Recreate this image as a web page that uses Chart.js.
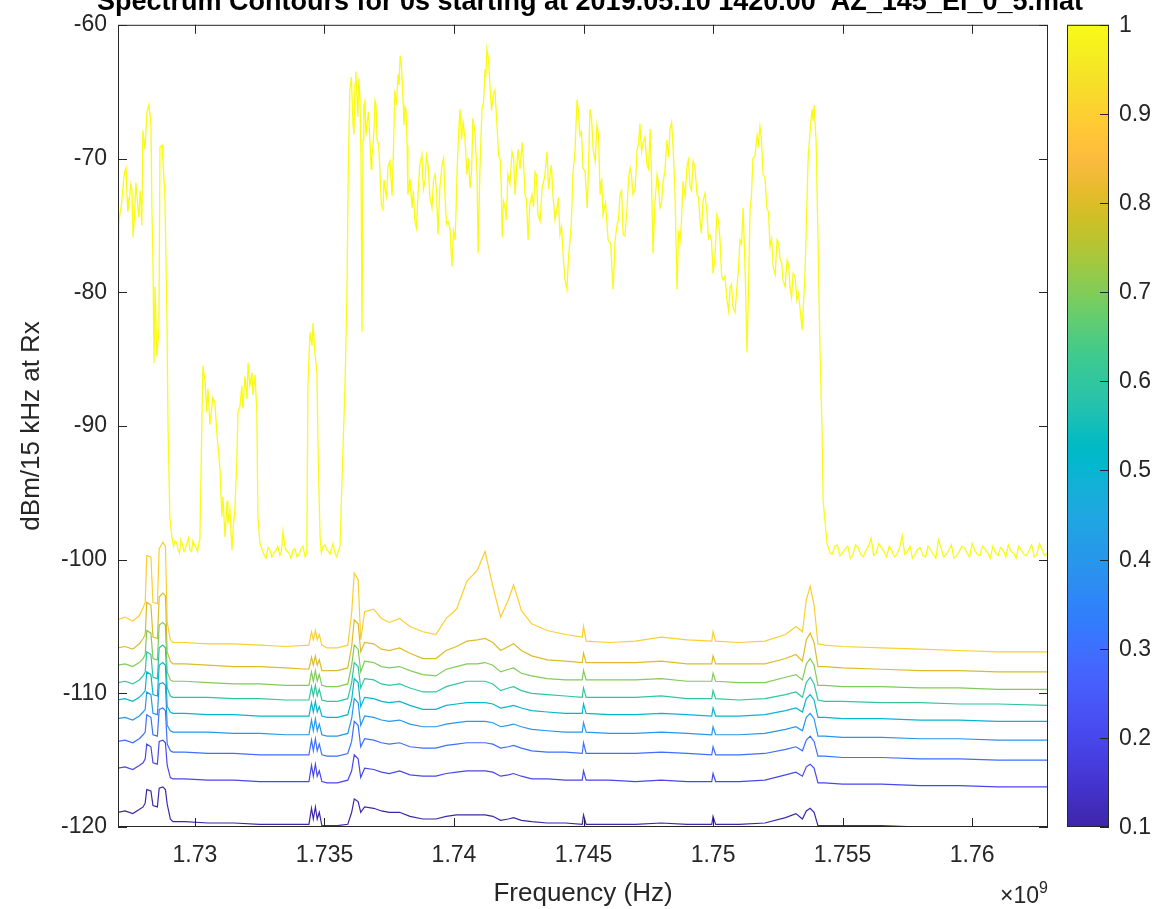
<!DOCTYPE html>
<html>
<head>
<meta charset="utf-8">
<script src="https://cdn.jsdelivr.net/npm/chart.js@4.4.0/dist/chart.umd.min.js"></script>
<style>
html, body { margin: 0; padding: 0; background: #fff; }
canvas { display: block; }
</style>
</head>
<body>
<canvas id="myChart" width="1173" height="909"></canvas>
<script>
// contour levels and axis ticks
const contourLevels = [0.1, 0.2, 0.3, 0.4, 0.5, 0.6, 0.7, 0.8, 0.9, 1.0];
const xTickVals = [1730, 1735, 1740, 1745, 1750, 1755, 1760];
const xTickLabels = ['1.73', '1.735', '1.74', '1.745', '1.75', '1.755', '1.76'];
const cbTickVals = [0.1, 0.2, 0.3, 0.4, 0.5, 0.6, 0.7, 0.8, 0.9, 1];
const cbTickLabels = ['0.1', '0.2', '0.3', '0.4', '0.5', '0.6', '0.7', '0.8', '0.9', '1'];

// level 1.0 contour (MHz / dBm)
const freqTop = [1727.03,1727.10,1727.22,1727.34,1727.41,1727.53,1727.61,1727.72,1727.80,1727.88,1727.95,1727.99,1728.07,1728.15,1728.22,1728.30,1728.34,1728.38,1728.42,1728.46,1728.53,1728.61,1728.65,1728.73,1728.76,1728.84,1728.92,1728.96,1729.03,1729.11,1729.23,1729.34,1729.46,1729.58,1729.69,1729.81,1729.92,1730.04,1730.15,1730.19,1730.27,1730.31,1730.39,1730.46,1730.50,1730.58,1730.69,1730.77,1730.85,1730.97,1731.04,1731.08,1731.16,1731.24,1731.27,1731.35,1731.43,1731.47,1731.54,1731.62,1731.66,1731.74,1731.81,1731.85,1731.93,1732.01,1732.05,1732.12,1732.20,1732.24,1732.32,1732.39,1732.43,1732.51,1732.66,1732.82,1732.97,1733.13,1733.28,1733.40,1733.55,1733.71,1733.86,1734.02,1734.17,1734.32,1734.36,1734.44,1734.52,1734.56,1734.63,1734.71,1734.75,1734.83,1734.94,1735.10,1735.21,1735.33,1735.48,1735.60,1735.71,1735.79,1735.87,1735.91,1735.98,1736.10,1736.18,1736.25,1736.33,1736.41,1736.45,1736.49,1736.56,1736.64,1736.76,1736.83,1736.87,1736.95,1737.03,1737.14,1737.26,1737.34,1737.45,1737.61,1737.72,1737.84,1737.92,1738.03,1738.11,1738.19,1738.22,1738.38,1738.49,1738.61,1738.76,1738.88,1739.00,1739.15,1739.27,1739.38,1739.54,1739.65,1739.77,1739.92,1740.04,1740.12,1740.23,1740.35,1740.50,1740.62,1740.73,1740.89,1740.93,1741.08,1741.20,1741.27,1741.39,1741.51,1741.66,1741.78,1741.86,1741.97,1742.08,1742.24,1742.36,1742.47,1742.63,1742.74,1742.86,1743.01,1743.13,1743.24,1743.40,1743.59,1743.71,1743.82,1743.98,1744.09,1744.21,1744.36,1744.48,1744.59,1744.75,1744.86,1744.98,1745.14,1745.25,1745.37,1745.52,1745.64,1745.75,1745.95,1746.14,1746.29,1746.41,1746.53,1746.68,1746.80,1746.91,1747.07,1747.18,1747.30,1747.45,1747.57,1747.68,1747.84,1747.95,1748.07,1748.22,1748.34,1748.46,1748.61,1748.73,1748.84,1749.00,1749.11,1749.23,1749.38,1749.50,1749.61,1749.77,1749.88,1750.00,1750.15,1750.27,1750.39,1750.54,1750.66,1750.77,1750.93,1751.04,1751.16,1751.31,1751.43,1751.54,1751.70,1751.81,1751.93,1752.08,1752.20,1752.32,1752.47,1752.59,1752.70,1752.86,1752.97,1753.09,1753.24,1753.36,1753.44,1753.55,1753.67,1753.82,1753.90,1753.98,1754.05,1754.13,1754.21,1754.25,1754.40,1754.52,1754.7,1754.9,1755.1,1755.3,1755.5,1755.7,1755.9,1756.1,1756.3,1756.5,1756.7,1756.9,1757.1,1757.3,1757.5,1757.7,1757.9,1758.1,1758.3,1758.5,1758.7,1758.9,1759.1,1759.3,1759.5,1759.7,1759.9,1760.1,1760.3,1760.5,1760.7,1760.9,1761.1,1761.3,1761.5,1761.7,1761.9,1762.1,1762.3,1762.5,1762.7,1762.93];
const dbTop = [-76.1,-74.2,-72.2,-70.7,-74.0,-71.9,-75.9,-71.8,-73.8,-72.4,-75.0,-67.9,-69.3,-66.5,-66.0,-67.3,-74.0,-77.6,-85.3,-79.6,-84.8,-82.8,-69.2,-69.0,-70.0,-72.8,-82.0,-89.9,-96.8,-98.3,-98.6,-99.2,-98.5,-99.4,-98.8,-99.3,-98.6,-99.1,-98.7,-98.6,-89.4,-85.5,-86.7,-89.0,-87.2,-89.9,-87.9,-88.3,-90.6,-93.4,-96.8,-95.3,-98.3,-95.6,-97.3,-96.3,-99.3,-97.8,-96.3,-92.4,-89.0,-88.5,-87.0,-88.7,-86.3,-88.0,-85.3,-87.0,-86.0,-87.7,-86.2,-89.0,-96.8,-98.8,-99.6,-99.1,-99.8,-99.3,-99.7,-97.9,-99.4,-99.9,-99.2,-99.6,-99.0,-99.5,-87.0,-83.0,-84.0,-82.3,-84.5,-86.0,-91.5,-98.3,-99.0,-99.3,-99.6,-98.8,-99.8,-99.0,-92.0,-87.2,-80.0,-72.0,-64.8,-67.4,-64.4,-65.2,-64.0,-70.0,-83.0,-68.6,-65.7,-67.4,-68.9,-69.9,-69.1,-65.7,-68.6,-71.0,-73.8,-72.3,-70.6,-72.8,-64.9,-63.7,-62.3,-65.4,-66.1,-69.0,-72.7,-73.7,-74.7,-72.7,-69.7,-71.7,-70.5,-73.7,-71.2,-75.7,-70.5,-72.7,-74.7,-78.1,-76.1,-70.9,-66.3,-67.3,-71.2,-72.2,-67.0,-71.2,-77.1,-66.3,-63.3,-61.8,-64.6,-65.3,-67.5,-70.0,-75.9,-73.7,-71.2,-69.5,-72.7,-69.3,-68.8,-72.7,-76.1,-72.7,-71.0,-74.2,-72.2,-69.5,-71.2,-72.7,-73.7,-75.7,-77.1,-79.8,-76.1,-71.2,-65.6,-68.3,-70.7,-73.7,-66.3,-69.3,-67.5,-72.7,-74.2,-76.1,-79.8,-75.0,-72.7,-75.7,-73.7,-70.7,-72.7,-69.3,-67.4,-68.8,-70.5,-67.8,-77.1,-71.2,-73.7,-71.7,-68.6,-67.8,-69.3,-79.8,-76.1,-71.7,-70.5,-72.0,-70.2,-72.7,-74.7,-73.2,-74.2,-75.7,-78.6,-74.2,-76.1,-79.1,-80.6,-79.6,-81.1,-79.4,-76.1,-73.7,-84.5,-73.7,-70.0,-68.3,-67.6,-71.2,-73.7,-76.6,-78.1,-76.1,-77.6,-79.1,-77.6,-79.6,-78.6,-80.6,-81.3,-82.8,-78.6,-70.0,-66.3,-66.0,-68.8,-76.0,-84.5,-90.6,-95.6,-98.8,-99.5,-99.0,-99.7,-99.2,-99.9,-98.9,-99.6,-99.3,-98.4,-99.5,-99.1,-99.8,-99.3,-99.6,-98.2,-99.4,-99.9,-99.2,-99.7,-99.0,-99.6,-98.5,-99.8,-99.3,-99.9,-99.4,-99.1,-99.8,-99.3,-99.7,-99.2,-99.9,-99.5,-99.1,-99.8,-99.4,-99.9,-99.3,-99.7,-98.9,-99.6,-99.2,-99.5];

// extra in-between readings of the same 1.0 contour (its fine noise)
const freqTopMid = [1727.06,1727.16,1727.28,1727.38,1727.47,1727.57,1727.67,1727.76,1727.84,1727.92,1729.17,1729.29,1729.40,1729.52,1729.64,1729.75,1729.87,1729.98,1730.10,1732.59,1732.74,1732.90,1733.05,1733.20,1733.34,1733.48,1733.63,1733.79,1733.94,1734.10,1734.25,1734.88,1735.02,1735.16,1735.27,1735.40,1735.54,1736.04,1736.14,1736.21,1736.29,1736.37,1736.52,1736.60,1736.70,1736.80,1736.91,1736.99,1737.09,1737.20,1737.30,1737.40,1737.53,1737.66,1737.78,1737.88,1737.97,1738.07,1738.15,1738.30,1738.43,1738.55,1738.68,1738.82,1738.94,1739.07,1739.21,1739.33,1739.46,1739.60,1739.71,1739.85,1739.98,1740.08,1740.18,1740.29,1740.42,1740.56,1740.68,1740.81,1741.00,1741.14,1741.23,1741.33,1741.45,1741.58,1741.72,1741.82,1741.91,1742.02,1742.16,1742.30,1742.41,1742.55,1742.68,1742.80,1742.93,1743.07,1743.18,1743.32,1743.50,1743.65,1743.76,1743.90,1744.03,1744.15,1744.28,1744.42,1744.53,1744.67,1744.80,1744.92,1745.06,1745.19,1745.31,1745.45,1745.58,1745.70,1745.85,1746.05,1746.22,1746.35,1746.47,1746.60,1746.74,1746.85,1746.99,1747.12,1747.24,1747.37,1747.51,1747.62,1747.76,1747.89,1748.01,1748.14,1748.28,1748.40,1748.53,1748.67,1748.78,1748.92,1749.05,1749.17,1749.30,1749.44,1749.55,1749.69,1749.82,1749.94,1750.07,1750.21,1750.33,1750.46,1750.60,1750.71,1750.85,1750.98,1751.10,1751.24,1751.37,1751.48,1751.62,1751.75,1751.87,1752.00,1752.14,1752.26,1752.40,1752.53,1752.65,1752.78,1752.92,1753.03,1753.17,1753.30,1753.75,1753.86,1754.6,1754.8,1755.0,1755.2,1755.4,1755.6,1755.8,1756.0,1756.2,1756.4,1756.6,1756.8,1757.0,1757.2,1757.4,1757.6,1757.8,1758.0,1758.2,1758.4,1758.6,1758.8,1759.0,1759.2,1759.4,1759.6,1759.8,1760.0,1760.2,1760.4,1760.6,1760.8,1761.0,1761.2,1761.4,1761.6,1761.8,1762.0,1762.2,1762.4,1762.6,1762.8];
const dbTopMid = [-75.0,-73.5,-71.0,-72.9,-73.0,-72.4,-74.2,-72.7,-74.4,-73.3,-99.0,-98.7,-99.5,-98.9,-99.1,-98.4,-99.4,-98.9,-99.4,-99.2,-99.9,-99.3,-99.5,-99.0,-99.4,-99.1,-99.5,-99.3,-99.8,-99.2,-99.8,-99.5,-98.9,-99.4,-99.2,-99.5,-99.3,-63.9,-68.2,-63.5,-66.9,-65.5,-66.0,-68.3,-66.5,-70.8,-67.9,-66.0,-68.9,-73.5,-71.6,-72.9,-70.2,-69.5,-66.0,-64.5,-63.0,-67.5,-66.4,-71.5,-72.4,-75.2,-70.5,-72.3,-69.8,-72.9,-71.6,-72.5,-72.0,-70.0,-74.9,-75.3,-75.4,-73.9,-68.0,-68.6,-68.4,-70.0,-70.9,-68.1,-70.9,-65.8,-63.9,-62.5,-66.4,-64.9,-69.8,-71.8,-73.2,-74.6,-71.9,-70.0,-70.9,-70.8,-70.1,-73.1,-73.4,-73.6,-71.2,-74.7,-71.4,-72.3,-70.5,-74.6,-72.9,-75.1,-79.0,-77.4,-74.8,-69.5,-66.4,-68.0,-71.0,-70.9,-67.0,-70.2,-68.2,-71.5,-73.3,-76.4,-76.1,-74.6,-72.4,-75.8,-71.4,-71.2,-72.3,-68.9,-69.5,-68.4,-70.8,-71.0,-73.2,-71.8,-73.3,-71.0,-69.9,-67.3,-72.5,-75.4,-74.7,-72.8,-70.1,-72.4,-70.6,-72.9,-75.6,-72.6,-76.0,-76.1,-77.5,-74.6,-78.8,-78.8,-81.4,-79.4,-81.5,-78.3,-76.4,-78.5,-79.6,-72.9,-69.8,-68.9,-68.6,-71.4,-74.0,-76.0,-78.7,-76.3,-77.8,-79.6,-78.0,-80.4,-78.9,-80.1,-67.9,-67.2,-99.6,-98.9,-99.5,-99.0,-99.6,-99.1,-99.8,-99.0,-99.7,-98.8,-99.4,-99.0,-99.8,-99.1,-99.6,-99.0,-99.6,-99.1,-99.8,-99.3,-99.9,-99.1,-99.6,-98.9,-99.7,-99.0,-99.5,-98.8,-99.6,-99.0,-99.5,-99.0,-99.7,-99.3,-98.9,-99.5,-99.0,-99.6,-99.3,-99.8,-98.8,-99.7];

// levels 0.1 .. 0.9 share one frequency grid (MHz)
const freqLow = [1727.03,1727.3,1727.6,1727.85,1728.0,1728.08,1728.14,1728.30,1728.38,1728.55,1728.62,1728.76,1728.86,1728.93,1729.05,1729.15,1729.6,1730.5,1731.5,1732.5,1733.5,1734.4,1734.5,1734.57,1734.65,1734.72,1734.8,1734.9,1735.1,1735.5,1735.9,1736.05,1736.15,1736.3,1736.4,1736.55,1736.9,1737.2,1737.5,1737.9,1738.3,1738.8,1739.3,1739.7,1740.1,1740.5,1740.9,1741.2,1741.5,1741.8,1742.1,1742.3,1742.6,1743.0,1743.6,1744.3,1744.95,1745.0,1745.1,1746.0,1747.0,1748.0,1749.0,1749.95,1750.0,1750.1,1751.0,1752.0,1752.8,1753.2,1753.45,1753.6,1753.75,1753.9,1754.05,1754.3,1755.0,1756.5,1758.0,1759.5,1761.0,1762.93];
const db09 = [-104.5,-104.3,-104.6,-104.2,-103.6,-103.2,-99.7,-99.8,-103.2,-103.3,-99.2,-98.7,-99.0,-104.7,-106.0,-106.2,-106.2,-106.3,-106.3,-106.4,-106.5,-106.4,-105.4,-106.0,-105.3,-106.0,-105.6,-106.4,-106.6,-106.6,-106.4,-104.0,-101.0,-101.5,-106.0,-103.9,-103.7,-104.4,-104.7,-104.4,-105.0,-105.4,-105.6,-104.4,-103.7,-101.6,-100.8,-99.4,-102.0,-104.3,-103.0,-101.9,-103.8,-104.8,-105.3,-105.6,-105.8,-105.0,-106.1,-106.2,-106.1,-105.8,-106.0,-106.1,-105.4,-106.1,-106.2,-106.1,-105.6,-105.0,-105.4,-103.0,-102.0,-103.4,-106.3,-106.4,-106.5,-106.6,-106.7,-106.8,-106.9,-106.9];
const db08 = [-106.6,-106.5,-106.7,-106.3,-105.9,-105.6,-103.2,-103.4,-105.8,-105.9,-102.8,-102.5,-102.7,-106.9,-107.6,-107.8,-107.8,-107.9,-108.0,-108.0,-108.1,-108.2,-107.3,-107.9,-107.2,-107.9,-107.5,-108.3,-108.3,-108.3,-108.1,-106.5,-104.5,-104.8,-106.9,-106.2,-106.3,-106.7,-106.8,-106.6,-107.0,-107.4,-107.4,-106.8,-106.5,-106.1,-106.0,-105.9,-106.2,-106.8,-106.5,-106.3,-106.8,-107.2,-107.5,-107.6,-107.7,-107.0,-107.7,-107.7,-107.7,-107.6,-107.8,-107.8,-107.2,-107.8,-107.8,-107.8,-107.4,-107.1,-107.6,-106.0,-105.5,-106.2,-108.0,-108.0,-108.1,-108.2,-108.3,-108.3,-108.4,-108.4];
const db07 = [-107.9,-107.8,-108.0,-107.7,-107.4,-107.1,-105.3,-105.5,-107.4,-107.5,-104.9,-104.7,-104.9,-108.4,-109.0,-109.1,-109.1,-109.2,-109.3,-109.3,-109.4,-109.4,-108.4,-109.1,-108.3,-109.1,-108.6,-109.4,-109.5,-109.5,-109.3,-107.9,-106.4,-106.7,-108.4,-107.6,-107.7,-108.0,-108.1,-108.0,-108.3,-108.6,-108.7,-108.2,-108.0,-107.8,-107.8,-107.7,-107.9,-108.4,-108.2,-108.1,-108.5,-108.7,-108.9,-109.0,-109.0,-108.3,-109.0,-109.0,-109.0,-108.9,-109.1,-109.1,-108.5,-109.1,-109.2,-109.2,-108.8,-108.6,-109.0,-107.8,-107.4,-107.9,-109.4,-109.4,-109.5,-109.5,-109.6,-109.6,-109.7,-109.7];
const db06 = [-109.2,-109.1,-109.3,-109.0,-108.7,-108.4,-106.9,-107.1,-108.8,-108.9,-106.6,-106.4,-106.6,-109.6,-110.2,-110.3,-110.3,-110.3,-110.4,-110.4,-110.5,-110.5,-109.5,-110.2,-109.4,-110.2,-109.7,-110.5,-110.6,-110.6,-110.4,-109.2,-107.7,-108.0,-109.6,-108.9,-109.0,-109.3,-109.4,-109.3,-109.6,-109.9,-109.9,-109.5,-109.3,-109.1,-109.1,-109.1,-109.3,-109.8,-109.6,-109.5,-109.8,-110.0,-110.1,-110.2,-110.3,-109.6,-110.3,-110.3,-110.3,-110.2,-110.4,-110.4,-109.8,-110.4,-110.5,-110.4,-110.1,-109.9,-110.3,-109.2,-108.8,-109.3,-110.5,-110.6,-110.6,-110.7,-110.7,-110.8,-110.8,-110.9];
const db05 = [-110.5,-110.4,-110.6,-110.3,-110.0,-109.8,-108.4,-108.6,-110.1,-110.2,-107.9,-107.7,-107.9,-111.0,-111.4,-111.5,-111.5,-111.6,-111.6,-111.7,-111.7,-111.7,-110.7,-111.4,-110.6,-111.4,-111.0,-111.7,-111.8,-111.8,-111.6,-110.5,-108.9,-109.2,-111.0,-110.3,-110.4,-110.6,-110.7,-110.6,-110.9,-111.2,-111.2,-110.9,-110.8,-110.7,-110.7,-110.7,-110.8,-111.1,-111.0,-110.9,-111.1,-111.3,-111.4,-111.5,-111.5,-110.8,-111.5,-111.6,-111.6,-111.5,-111.6,-111.7,-111.1,-111.7,-111.7,-111.6,-111.3,-111.1,-111.4,-110.4,-110.1,-110.5,-111.8,-111.8,-111.9,-111.9,-112.0,-112.0,-112.1,-112.1];
const db04 = [-111.9,-111.8,-112.0,-111.7,-111.4,-111.2,-109.9,-110.1,-111.5,-111.6,-109.3,-109.2,-109.4,-112.4,-112.8,-112.9,-112.9,-112.9,-113.0,-113.0,-113.1,-113.1,-112.0,-112.8,-111.9,-112.8,-112.3,-113.1,-113.2,-113.2,-113.0,-111.9,-110.4,-110.7,-112.4,-111.7,-111.8,-112.0,-112.1,-112.0,-112.3,-112.5,-112.5,-112.3,-112.2,-112.1,-112.1,-112.1,-112.2,-112.5,-112.4,-112.3,-112.5,-112.7,-112.8,-112.9,-112.9,-112.2,-112.9,-113.0,-113.0,-112.9,-113.0,-113.1,-112.5,-113.1,-113.1,-113.0,-112.7,-112.5,-112.8,-111.8,-111.5,-111.9,-113.2,-113.2,-113.3,-113.3,-113.4,-113.4,-113.5,-113.5];
const db03 = [-113.6,-113.5,-113.7,-113.4,-113.1,-112.9,-111.6,-111.8,-113.1,-113.2,-111.2,-111.1,-111.3,-113.8,-114.3,-114.4,-114.4,-114.5,-114.5,-114.6,-114.6,-114.6,-113.5,-114.3,-113.4,-114.3,-113.8,-114.6,-114.7,-114.7,-114.5,-113.6,-112.1,-112.4,-114.0,-113.4,-113.5,-113.7,-113.8,-113.7,-114.0,-114.1,-114.1,-113.9,-113.8,-113.7,-113.7,-113.7,-113.8,-114.1,-114.0,-113.9,-114.1,-114.3,-114.4,-114.4,-114.5,-113.7,-114.5,-114.5,-114.5,-114.4,-114.5,-114.6,-114.0,-114.6,-114.6,-114.5,-114.2,-114.0,-114.3,-113.5,-113.2,-113.6,-114.7,-114.7,-114.8,-114.8,-114.9,-114.9,-115.0,-115.0];
const db02 = [-115.6,-115.5,-115.7,-115.4,-115.2,-114.9,-113.8,-114.0,-115.2,-115.3,-113.6,-113.5,-113.7,-115.4,-116.3,-116.4,-116.4,-116.5,-116.5,-116.6,-116.6,-116.6,-115.4,-116.2,-115.3,-116.2,-115.8,-116.6,-116.7,-116.7,-116.5,-115.8,-114.6,-114.9,-116.3,-115.6,-115.7,-115.9,-116.0,-115.8,-116.1,-116.2,-116.2,-116.0,-115.9,-115.8,-115.8,-115.8,-115.9,-116.2,-116.1,-116.0,-116.2,-116.4,-116.4,-116.5,-116.5,-115.8,-116.5,-116.5,-116.6,-116.5,-116.6,-116.6,-116.0,-116.6,-116.6,-116.5,-116.1,-115.9,-116.2,-115.5,-115.3,-115.6,-116.7,-116.7,-116.8,-116.8,-116.9,-116.9,-117.0,-117.0];
const db01 = [-118.9,-118.8,-119.0,-118.7,-118.5,-118.2,-117.2,-117.3,-118.4,-118.5,-117.1,-117.0,-117.2,-118.3,-119.4,-119.6,-119.6,-119.7,-119.7,-119.8,-119.8,-119.8,-118.6,-119.4,-118.5,-119.4,-118.9,-119.9,-119.9,-119.9,-119.8,-118.9,-117.9,-118.1,-118.9,-118.5,-118.6,-118.8,-118.9,-118.9,-119.2,-119.4,-119.4,-119.2,-119.1,-119.1,-119.1,-119.1,-119.2,-119.5,-119.4,-119.3,-119.5,-119.6,-119.7,-119.7,-119.8,-119.1,-119.8,-119.8,-119.8,-119.7,-119.8,-119.8,-119.2,-119.8,-119.8,-119.7,-119.3,-119.0,-119.4,-118.8,-118.6,-118.9,-119.9,-119.9,-119.9,-119.9,-120.0,-120.0,-120.0,-120.0];

const lowSeries = [db01, db02, db03, db04, db05, db06, db07, db08, db09];

// parula colormap (64 entries)
const parula = [[0.2422,0.1504,0.6603],[0.2504,0.1650,0.7076],[0.2578,0.1818,0.7511],[0.2647,0.1978,0.7952],[0.2706,0.2147,0.8364],[0.2751,0.2342,0.8710],[0.2783,0.2559,0.8991],[0.2803,0.2782,0.9221],[0.2813,0.3006,0.9414],[0.2810,0.3228,0.9579],[0.2795,0.3447,0.9717],[0.2760,0.3667,0.9829],[0.2699,0.3892,0.9906],[0.2602,0.4123,0.9952],[0.2440,0.4358,0.9988],[0.2206,0.4603,0.9973],[0.1963,0.4847,0.9892],[0.1834,0.5074,0.9798],[0.1786,0.5289,0.9682],[0.1764,0.5499,0.9520],[0.1687,0.5703,0.9359],[0.1540,0.5902,0.9218],[0.1460,0.6091,0.9079],[0.1380,0.6276,0.8973],[0.1248,0.6459,0.8883],[0.1113,0.6635,0.8763],[0.0952,0.6798,0.8598],[0.0689,0.6948,0.8394],[0.0297,0.7082,0.8163],[0.0036,0.7203,0.7917],[0.0067,0.7312,0.7660],[0.0433,0.7411,0.7394],[0.0964,0.7500,0.7120],[0.1408,0.7584,0.6842],[0.1717,0.7670,0.6554],[0.1938,0.7758,0.6251],[0.2161,0.7843,0.5923],[0.2470,0.7918,0.5567],[0.2906,0.7973,0.5188],[0.3406,0.8008,0.4789],[0.3909,0.8029,0.4354],[0.4456,0.8024,0.3909],[0.5044,0.7993,0.3480],[0.5616,0.7942,0.3045],[0.6174,0.7876,0.2612],[0.6720,0.7793,0.2227],[0.7242,0.7698,0.1910],[0.7738,0.7598,0.1646],[0.8203,0.7498,0.1535],[0.8634,0.7406,0.1596],[0.9035,0.7330,0.1774],[0.9393,0.7288,0.2100],[0.9728,0.7298,0.2394],[0.9956,0.7434,0.2371],[0.9970,0.7659,0.2199],[0.9952,0.7893,0.2028],[0.9892,0.8136,0.1885],[0.9786,0.8386,0.1766],[0.9676,0.8639,0.1643],[0.9610,0.8890,0.1537],[0.9597,0.9135,0.1423],[0.9628,0.9373,0.1265],[0.9691,0.9606,0.1064],[0.9769,0.9839,0.0805]];

function parulaColor(t) {
    t = Math.max(0, Math.min(1, t));
    const p = t * (parula.length - 1);
    const i = Math.min(Math.floor(p), parula.length - 2);
    const f = p - i;
    const c = [0, 1, 2].map(k => Math.round((parula[i][k] * (1 - f) + parula[i + 1][k] * f) * 255));
    return 'rgb(' + c.join(',') + ')';
}
const levelColor = (lv) => parulaColor((lv - 0.1) / 0.9);

const FONT = "'Liberation Sans', Arial, Helvetica, sans-serif";
const INK = '#262626';

const datasets = lowSeries.map((vals, k) => ({
    data: freqLow.map((f, i) => ({ x: f, y: vals[i] })),
    borderColor: levelColor(contourLevels[k]),
    borderWidth: 1.2
}));
const topPoints = freqTop.map((f, i) => ({ x: f, y: dbTop[i] }))
    .concat(freqTopMid.map((f, i) => ({ x: f, y: dbTopMid[i] })))
    .sort((p, q) => p.x - q.x);
datasets.push({
    data: topPoints,
    borderColor: levelColor(1.0),
    borderWidth: 1.3
});

const matlabFrame = {
    id: 'matlabFrame',
    afterDraw(chart) {
        const ctx = chart.ctx;
        const a = chart.chartArea;
        const xs = chart.scales.x, ys = chart.scales.y;
        ctx.save();
        ctx.strokeStyle = INK;
        ctx.lineWidth = 1;
        ctx.strokeRect(a.left + 0.5, a.top + 0.5, a.right - a.left - 1, a.bottom - a.top - 1);
        ctx.beginPath();
        xTickVals.forEach(v => {
            const px = Math.round(xs.getPixelForValue(v)) + 0.5;
            ctx.moveTo(px, a.bottom); ctx.lineTo(px, a.bottom - 9);
            ctx.moveTo(px, a.top); ctx.lineTo(px, a.top + 9);
        });
        ys.ticks.forEach(t => {
            const py = Math.round(ys.getPixelForValue(t.value)) + 0.5;
            ctx.moveTo(a.left, py); ctx.lineTo(a.left + 9, py);
            ctx.moveTo(a.right, py); ctx.lineTo(a.right - 9, py);
        });
        ctx.stroke();

        // title (clipped at top, as in the figure)
        ctx.fillStyle = '#000';
        ctx.font = 'bold 27px ' + FONT;
        ctx.textAlign = 'center';
        ctx.textBaseline = 'alphabetic';
        ctx.fillText('Spectrum Contours for 0s starting at 2019.05.10 1420.00  AZ_145_El_0_5.mat', (a.left + a.right) / 2 + 7, 10);

        // axis labels
        ctx.fillStyle = INK;
        ctx.font = '26px ' + FONT;
        ctx.fillText('Frequency (Hz)', (a.left + a.right) / 2, 901);
        ctx.save();
        ctx.translate(32, (a.top + a.bottom) / 2);
        ctx.rotate(-Math.PI / 2);
        ctx.textBaseline = 'middle';
        ctx.fillText('dBm/15 kHz at Rx', 0, 0);
        ctx.restore();

        // exponent
        ctx.textAlign = 'right';
        ctx.font = '16px ' + FONT;
        ctx.fillText('9', a.right, 893);
        const w9 = ctx.measureText('9').width;
        ctx.font = '23px ' + FONT;
        ctx.fillText('\u00d710', a.right - w9, 903);

        // colorbar
        const cbL = 1067, cbR = 1109, cbT = a.top, cbB = a.bottom;
        const g = ctx.createLinearGradient(0, cbB, 0, cbT);
        parula.forEach((c, i) => g.addColorStop(i / (parula.length - 1), parulaColor(i / (parula.length - 1))));
        ctx.fillStyle = g;
        ctx.fillRect(cbL, cbT, cbR - cbL, cbB - cbT);
        ctx.strokeStyle = INK;
        ctx.strokeRect(cbL + 0.5, cbT + 0.5, cbR - cbL - 1, cbB - cbT - 1);
        ctx.beginPath();
        ctx.fillStyle = INK;
        ctx.font = '23px ' + FONT;
        ctx.textAlign = 'left';
        ctx.textBaseline = 'middle';
        cbTickVals.forEach((v, i) => {
            const py = Math.round(cbB - (v - 0.1) / 0.9 * (cbB - cbT)) + 0.5;
            ctx.moveTo(cbR, py); ctx.lineTo(cbR - 9, py);
            ctx.fillText(cbTickLabels[i], cbR + 10, py);
        });
        ctx.stroke();
        ctx.restore();
    }
};

new Chart(document.getElementById('myChart'), {
    type: 'scatter',
    data: { datasets: datasets },
    options: {
        responsive: false,
        devicePixelRatio: 1,
        animation: false,
        showLine: true,
        elements: {
            point: { radius: 0, hoverRadius: 0 },
            line: { tension: 0, fill: false }
        },
        layout: { padding: { left: 0, right: 125, top: 15, bottom: 0 } },
        plugins: {
            legend: { display: false },
            tooltip: { enabled: false },
            title: { display: false }
        },
        scales: {
            x: {
                type: 'linear',
                min: 1727.03,
                max: 1762.93,
                grid: { display: false, drawTicks: false },
                border: { display: false },
                afterBuildTicks: (s) => { s.ticks = xTickVals.map(v => ({ value: v })); },
                afterFit: (s) => { s.height = 82; },
                ticks: {
                    autoSkip: false,
                    maxRotation: 0,
                    padding: 15,
                    color: INK,
                    font: { family: FONT, size: 23 },
                    callback: (v, i) => xTickLabels[i]
                }
            },
            y: {
                min: -120,
                max: -60,
                grid: { display: false, drawTicks: false },
                border: { display: false },
                afterFit: (s) => { s.width = 118; },
                ticks: {
                    stepSize: 10,
                    padding: 11,
                    color: INK,
                    font: { family: FONT, size: 23 },
                    callback: (v) => String(v)
                }
            }
        }
    },
    plugins: [matlabFrame]
});
</script>
</body>
</html>
